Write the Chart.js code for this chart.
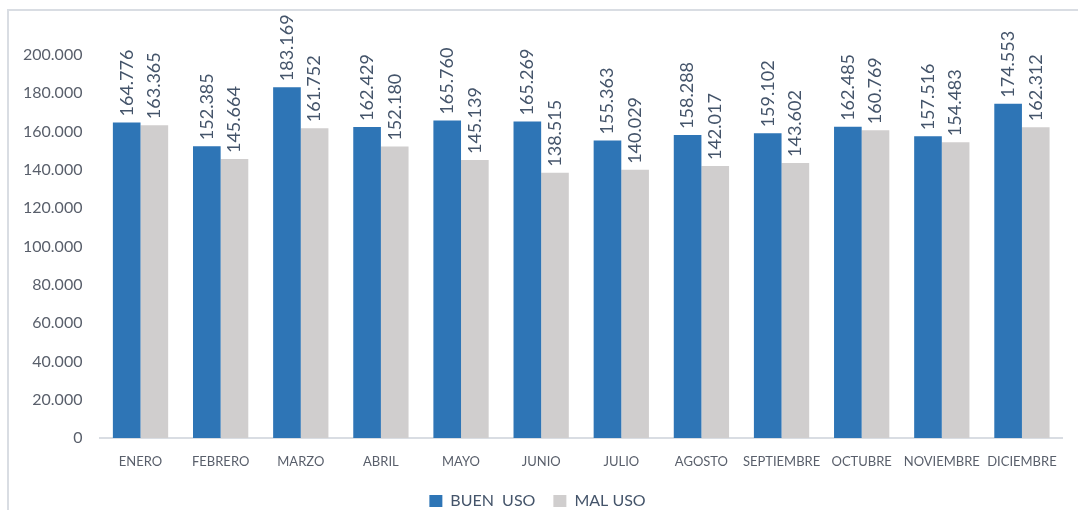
<!DOCTYPE html>
<html lang="es">
  <head>
    <meta charset="UTF-8" />
    <title>Buen uso / Mal uso</title>
    <script src="https://cdn.jsdelivr.net/npm/chart.js"></script>
    <style>
      html,
      body {
        margin: 0;
        background: #fff;
      }
      .chart-box {
        width: 1078px;
        height: 510px;
      }
    </style>
  </head>
  <body>
    <div class="chart-box">
      <canvas id="usoChart"></canvas>
    </div>
    <script>
      const months = [
        "ENERO", "FEBRERO", "MARZO", "ABRIL", "MAYO", "JUNIO",
        "JULIO", "AGOSTO", "SEPTIEMBRE", "OCTUBRE", "NOVIEMBRE", "DICIEMBRE",
      ];
      const buenUso = [
        164776, 152385, 183169, 162429, 165760, 165269,
        155363, 158288, 159102, 162485, 157516, 174553,
      ];
      const malUso = [
        163365, 145664, 161752, 152180, 145139, 138515,
        140029, 142017, 143602, 160769, 154483, 162312,
      ];

      const FONT = "Lato, 'Open Sans', sans-serif";

      // 164776 -> "164.776"
      function fmt(v) {
        return String(v).replace(/\B(?=(\d{3})+(?!\d))/g, ".");
      }

      // light frame like the original chart box
      const framePlugin = {
        id: "frame",
        beforeDraw(chart) {
          const ctx = chart.ctx;
          ctx.save();
          ctx.strokeStyle = "#d9dde3";
          ctx.lineWidth = 2;
          ctx.beginPath();
          ctx.moveTo(8, chart.height);
          ctx.lineTo(8, 10);
          ctx.lineTo(chart.width, 10);
          ctx.stroke();
          ctx.restore();
        },
      };

      // rotated value labels above each bar
      const valueLabels = {
        id: "valueLabels",
        afterDatasetsDraw(chart) {
          const ctx = chart.ctx;
          ctx.save();
          ctx.font = "18px " + FONT;
          ctx.fillStyle = "#44546a";
          ctx.textAlign = "left";
          ctx.textBaseline = "middle";
          chart.data.datasets.forEach((ds, i) => {
            chart.getDatasetMeta(i).data.forEach((bar, j) => {
              ctx.save();
              ctx.translate(bar.x, bar.y - 6);
              ctx.rotate(-Math.PI / 2);
              ctx.fillText(fmt(ds.data[j]), 0, 0);
              ctx.restore();
            });
          });
          ctx.restore();
        },
      };

      new Chart(document.getElementById("usoChart"), {
        type: "bar",
        data: {
          labels: months,
          datasets: [
            {
              label: "BUEN  USO",
              data: buenUso,
              backgroundColor: "#2e75b6",
            },
            {
              label: "MAL USO",
              data: malUso,
              backgroundColor: "#d0cece",
            },
          ],
        },
        options: {
          responsive: true,
          maintainAspectRatio: false,
          animation: false,
          layout: {
            padding: { left: 13, right: 16, top: 55, bottom: -9 },
          },
          datasets: {
            bar: { categoryPercentage: 0.69, barPercentage: 1 },
          },
          plugins: {
            tooltip: { enabled: false },
            legend: {
              position: "bottom",
              labels: {
                font: { family: FONT, size: 16 },
                color: "#44546a",
                boxWidth: 13,
                boxHeight: 12,
                padding: 18,
              },
            },
          },
          scales: {
            x: {
              grid: { display: false },
              border: { display: true, color: "#d9dde3", width: 2 },
              ticks: {
                font: { family: FONT, size: 13 },
                color: "#595f6b",
                padding: 8,
                maxRotation: 0,
                autoSkip: false,
              },
              afterFit(scale) {
                scale.height = 37;
              },
            },
            y: {
              min: 0,
              max: 200000,
              grid: { display: false },
              border: { display: false },
              ticks: {
                stepSize: 20000,
                font: { family: FONT, size: 16 },
                color: "#595f6b",
                padding: 10,
                callback: (v) => fmt(v),
              },
            },
          },
        },
        plugins: [framePlugin, valueLabels],
      });
    </script>
  </body>
</html>
